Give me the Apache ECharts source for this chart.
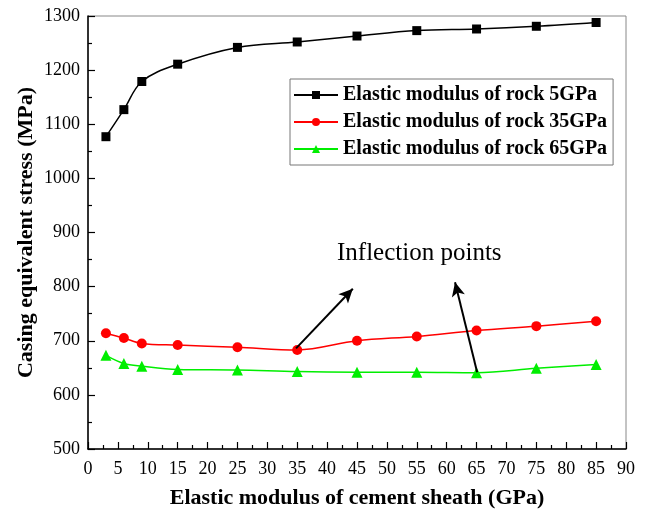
<!DOCTYPE html>
<html>
<head>
<meta charset="utf-8">
<script src="https://cdn.jsdelivr.net/npm/echarts@6/dist/echarts.min.js"></script>
<style>
  html, body { margin: 0; padding: 0; background: #fff; }
  #chart { width: 646px; height: 512px; }
</style>
</head>
<body>
<div id="chart"></div>
<script>
// Elastic modulus of cement sheath (GPa)
const sheathModulus = [3, 6, 9, 15, 25, 35, 45, 55, 65, 75, 85];

// Casing equivalent stress (MPa) for three rock moduli
const rock5GPa  = [1077, 1127, 1179, 1211, 1242, 1252, 1263, 1273, 1276, 1281, 1288];
const rock35GPa = [714, 705, 695, 692, 688, 683, 700, 708, 719, 727, 736];
const rock65GPa = [673, 658, 653, 647, 646, 643, 642, 642, 641, 649, 656];

const seriesNames = [
  'Elastic modulus of rock 5GPa',
  'Elastic modulus of rock 35GPa',
  'Elastic modulus of rock 65GPa'
];

// Arrow annotations pointing at the inflection points, in data coordinates
const arrowRed   = [[34.8, 686], [44.3, 796]];
const arrowGreen = [[65.1, 642], [61.4, 808]];

const serif = '"Liberation Serif", "Times New Roman", serif';

function pairs(xs, ys) { return xs.map((x, i) => [x, ys[i]]); }

const chart = echarts.init(document.getElementById('chart'), null, { renderer: 'canvas' });

chart.setOption({
  animation: false,
  backgroundColor: '#fff',
  grid: {
    left: 88, right: 20, top: 16, bottom: 63,
    containLabel: false,
    outerBoundsMode: 'none',
    show: true, borderColor: '#888', borderWidth: 1
  },
  legend: {
    left: 290, top: 79,
    orient: 'vertical',
    width: 325,
    padding: [6, 6, 6, 3],
    itemGap: 7,
    itemWidth: 44, itemHeight: 10,
    borderColor: '#777', borderWidth: 1,
    backgroundColor: '#fff',
    textStyle: { fontFamily: serif, fontWeight: 'bold', fontSize: 20, color: '#000' },
    data: seriesNames
  },
  xAxis: {
    type: 'value',
    min: 0, max: 90, interval: 5,
    name: 'Elastic modulus of cement sheath (GPa)',
    nameLocation: 'middle', nameGap: 38,
    nameMoveOverlap: false,
    nameTextStyle: { fontFamily: serif, fontWeight: 'bold', fontSize: 22, color: '#000' },
    axisLine: { show: true, lineStyle: { color: '#000', width: 1.5 } },
    axisTick: { show: true, inside: true, length: 7, lineStyle: { color: '#000', width: 1.2 } },
    minorTick: { show: true, splitNumber: 2, length: 4, lineStyle: { color: '#000', width: 1.2 } },
    axisLabel: { fontFamily: serif, fontSize: 18, color: '#000', margin: 11 },
    splitLine: { show: false }
  },
  yAxis: {
    type: 'value',
    min: 500, max: 1300, interval: 100,
    name: 'Casing equivalent stress (MPa)',
    nameLocation: 'middle', nameGap: 51,
    nameMoveOverlap: false,
    nameTextStyle: { fontFamily: serif, fontWeight: 'bold', fontSize: 22, color: '#000' },
    axisLine: { show: true, lineStyle: { color: '#000', width: 1.5 } },
    axisTick: { show: true, inside: true, length: 7, lineStyle: { color: '#000', width: 1.2 } },
    minorTick: { show: true, splitNumber: 2, length: 4, lineStyle: { color: '#000', width: 1.2 } },
    axisLabel: {
      fontFamily: serif, fontSize: 18, color: '#000', margin: 8,
      formatter: (v) => String(v)
    },
    splitLine: { show: false }
  },
  graphic: [{
    type: 'text',
    left: 337, top: 241,
    style: { text: 'Inflection points', font: '25px ' + serif, fill: '#000' }
  }],
  series: [
    {
      name: seriesNames[0], type: 'line', smooth: 0.35,
      data: pairs(sheathModulus, rock5GPa),
      symbol: 'rect', symbolSize: 9,
      itemStyle: { color: '#000' },
      lineStyle: { color: '#000', width: 1.5 },
      z: 3
    },
    {
      name: seriesNames[1], type: 'line', smooth: 0.35,
      data: pairs(sheathModulus, rock35GPa),
      symbol: 'circle', symbolSize: 10,
      itemStyle: { color: '#ff0000' },
      lineStyle: { color: '#ff0000', width: 1.5 },
      z: 3,
      markLine: {
        silent: true,
        symbol: ['none', 'arrow'], symbolSize: [10, 14],
        lineStyle: { color: '#000', width: 2, type: 'solid' },
        label: { show: false },
        data: [
          [{ coord: arrowRed[0] }, { coord: arrowRed[1] }],
          [{ coord: arrowGreen[0] }, { coord: arrowGreen[1] }]
        ],
        z: 5
      }
    },
    {
      name: seriesNames[2], type: 'line', smooth: 0.35,
      data: pairs(sheathModulus, rock65GPa),
      symbol: 'triangle', symbolSize: 11,
      itemStyle: { color: '#00ee00' },
      lineStyle: { color: '#00ee00', width: 1.5 },
      z: 3
    }
  ]
});
</script>
</body>
</html>
